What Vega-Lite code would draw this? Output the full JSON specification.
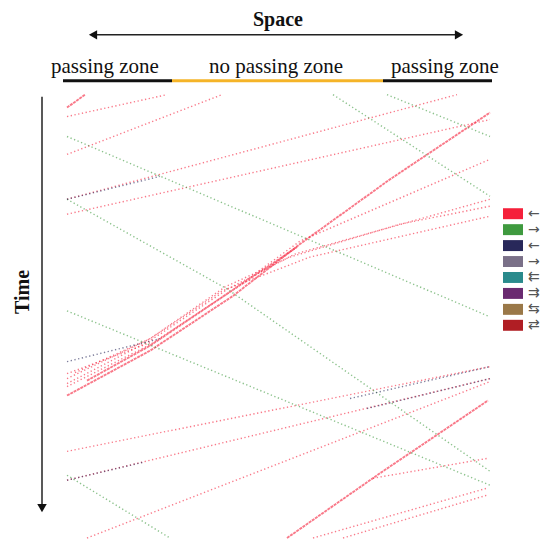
{
  "$schema": "https://vega.github.io/schema/vega-lite/v6.json",
  "width": 545,
  "height": 542,
  "padding": 0,
  "autosize": {"type": "fit", "contains": "padding"},
  "background": "white",
  "config": {"view": {"stroke": null}},
  "encoding": {
    "x": {"field": "s", "type": "quantitative", "scale": {"domain": [-67, 478], "nice": false, "zero": false}, "axis": null},
    "y": {"field": "t", "type": "quantitative", "scale": {"domain": [-90, 452], "nice": false, "zero": false, "reverse": true}, "axis": null}
  },
  "layer": [
    {
      "data": {"values": [
        {"id": "R1", "dir": "←", "sampling": "dense", "s": 0, "t": 18}, {"id": "R1", "dir": "←", "sampling": "dense", "s": 18, "t": 5},
        {"id": "R2", "dir": "←", "sampling": "sparse", "s": 0, "t": 27}, {"id": "R2", "dir": "←", "sampling": "sparse", "s": 100, "t": 5},
        {"id": "R3", "dir": "←", "sampling": "sparse", "s": 0, "t": 65}, {"id": "R3", "dir": "←", "sampling": "sparse", "s": 155, "t": 5},
        {"id": "R4", "dir": "←", "sampling": "sparse", "s": 0, "t": 110}, {"id": "R4", "dir": "←", "sampling": "sparse", "s": 390, "t": 5},
        {"id": "R5", "dir": "←", "sampling": "sparse", "s": 0, "t": 125}, {"id": "R5", "dir": "←", "sampling": "sparse", "s": 423, "t": 30},
        {"id": "R6", "dir": "←", "sampling": "dense", "s": 0, "t": 307}, {"id": "R6", "dir": "←", "sampling": "dense", "s": 83, "t": 262}, {"id": "R6", "dir": "←", "sampling": "dense", "s": 166, "t": 207}, {"id": "R6", "dir": "←", "sampling": "dense", "s": 233, "t": 155}, {"id": "R6", "dir": "←", "sampling": "dense", "s": 323, "t": 90}, {"id": "R6", "dir": "←", "sampling": "dense", "s": 423, "t": 23},
        {"id": "R7", "dir": "←", "sampling": "sparse", "s": 0, "t": 298}, {"id": "R7", "dir": "←", "sampling": "sparse", "s": 83, "t": 256}, {"id": "R7", "dir": "←", "sampling": "sparse", "s": 163, "t": 203}, {"id": "R7", "dir": "←", "sampling": "sparse", "s": 233, "t": 152}, {"id": "R7", "dir": "←", "sampling": "sparse", "s": 423, "t": 70},
        {"id": "R8", "dir": "←", "sampling": "sparse", "s": 0, "t": 295}, {"id": "R8", "dir": "←", "sampling": "sparse", "s": 83, "t": 252}, {"id": "R8", "dir": "←", "sampling": "sparse", "s": 161, "t": 200}, {"id": "R8", "dir": "←", "sampling": "sparse", "s": 228, "t": 165}, {"id": "R8", "dir": "←", "sampling": "sparse", "s": 423, "t": 110},
        {"id": "R9", "dir": "←", "sampling": "sparse", "s": 0, "t": 290}, {"id": "R9", "dir": "←", "sampling": "sparse", "s": 83, "t": 250}, {"id": "R9", "dir": "←", "sampling": "sparse", "s": 158, "t": 198}, {"id": "R9", "dir": "←", "sampling": "sparse", "s": 223, "t": 168}, {"id": "R9", "dir": "←", "sampling": "sparse", "s": 333, "t": 135}, {"id": "R9", "dir": "←", "sampling": "sparse", "s": 423, "t": 117},
        {"id": "R10", "dir": "←", "sampling": "sparse", "s": 8, "t": 284}, {"id": "R10", "dir": "←", "sampling": "sparse", "s": 83, "t": 250}, {"id": "R10", "dir": "←", "sampling": "sparse", "s": 155, "t": 202}, {"id": "R10", "dir": "←", "sampling": "sparse", "s": 243, "t": 168}, {"id": "R10", "dir": "←", "sampling": "sparse", "s": 423, "t": 127},
        {"id": "R11", "dir": "←", "sampling": "dense", "s": 20, "t": 292}, {"id": "R11", "dir": "←", "sampling": "dense", "s": 83, "t": 257}, {"id": "R11", "dir": "←", "sampling": "dense", "s": 160, "t": 205}, {"id": "R11", "dir": "←", "sampling": "dense", "s": 230, "t": 158},
        {"id": "R12", "dir": "←", "sampling": "sparse", "s": 0, "t": 285}, {"id": "R12", "dir": "←", "sampling": "sparse", "s": 83, "t": 254},
        {"id": "R13", "dir": "←", "sampling": "sparse", "s": 0, "t": 363}, {"id": "R13", "dir": "←", "sampling": "sparse", "s": 423, "t": 278},
        {"id": "R14", "dir": "←", "sampling": "sparse", "s": 0, "t": 392}, {"id": "R14", "dir": "←", "sampling": "sparse", "s": 423, "t": 290},
        {"id": "R15", "dir": "←", "sampling": "sparse", "s": 20, "t": 450}, {"id": "R15", "dir": "←", "sampling": "sparse", "s": 423, "t": 293},
        {"id": "R16", "dir": "←", "sampling": "dense", "s": 220, "t": 450}, {"id": "R16", "dir": "←", "sampling": "dense", "s": 313, "t": 385}, {"id": "R16", "dir": "←", "sampling": "dense", "s": 421, "t": 312},
        {"id": "R17", "dir": "←", "sampling": "sparse", "s": 306, "t": 390}, {"id": "R17", "dir": "←", "sampling": "sparse", "s": 421, "t": 370},
        {"id": "R18", "dir": "←", "sampling": "sparse", "s": 246, "t": 450}, {"id": "R18", "dir": "←", "sampling": "sparse", "s": 420, "t": 400},
        {"id": "R19", "dir": "←", "sampling": "sparse", "s": 276, "t": 450}, {"id": "R19", "dir": "←", "sampling": "sparse", "s": 420, "t": 407},
        {"id": "G1", "dir": "→", "sampling": "sparse", "s": 0, "t": 47}, {"id": "G1", "dir": "→", "sampling": "sparse", "s": 423, "t": 228},
        {"id": "G2", "dir": "→", "sampling": "sparse", "s": 0, "t": 110}, {"id": "G2", "dir": "→", "sampling": "sparse", "s": 160, "t": 200}, {"id": "G2", "dir": "→", "sampling": "sparse", "s": 423, "t": 383},
        {"id": "G3", "dir": "→", "sampling": "sparse", "s": 266, "t": 5}, {"id": "G3", "dir": "→", "sampling": "sparse", "s": 423, "t": 107},
        {"id": "G4", "dir": "→", "sampling": "sparse", "s": 320, "t": 5}, {"id": "G4", "dir": "→", "sampling": "sparse", "s": 423, "t": 47},
        {"id": "G5", "dir": "→", "sampling": "sparse", "s": 0, "t": 222}, {"id": "G5", "dir": "→", "sampling": "sparse", "s": 423, "t": 397},
        {"id": "G6", "dir": "→", "sampling": "sparse", "s": 0, "t": 387}, {"id": "G6", "dir": "→", "sampling": "sparse", "s": 103, "t": 450},
        {"id": "N1", "dir": "↞", "sampling": "sparse", "s": 0, "t": 110}, {"id": "N1", "dir": "↞", "sampling": "sparse", "s": 93, "t": 87},
        {"id": "N2", "dir": "↞", "sampling": "sparse", "s": 0, "t": 273}, {"id": "N2", "dir": "↞", "sampling": "sparse", "s": 93, "t": 250},
        {"id": "N3", "dir": "↞", "sampling": "sparse", "s": 0, "t": 392}, {"id": "N3", "dir": "↞", "sampling": "sparse", "s": 76, "t": 374},
        {"id": "N4", "dir": "↞", "sampling": "sparse", "s": 300, "t": 320}, {"id": "N4", "dir": "↞", "sampling": "sparse", "s": 423, "t": 290},
        {"id": "N5", "dir": "↞", "sampling": "sparse", "s": 283, "t": 310}, {"id": "N5", "dir": "↞", "sampling": "sparse", "s": 423, "t": 278}
      ]},
      "mark": {"type": "line", "opacity": 0.6, "clip": false},
      "encoding": {
        "detail": {"field": "id"},
        "color": {"field": "dir", "type": "nominal", "legend": null,
          "scale": {"domain": ["←", "→", "↞", "↠", "⇇", "⇉", "⇆", "⇄"],
                    "range": ["#f5203a", "#3f9a3f", "#28285a", "#7a7088", "#2a8a8c", "#6a2a70", "#9a7848", "#b01e24"]}},
        "strokeDash": {"field": "sampling", "type": "nominal", "legend": null,
          "scale": {"domain": ["sparse", "dense"], "range": [[1.3, 2.5], [3, 0.8]]}},
        "strokeWidth": {"field": "sampling", "type": "nominal", "legend": null,
          "scale": {"domain": ["sparse", "dense"], "range": [1.4, 1.9]}}
      }
    },
    {
      "data": {"values": [
        {"dir": "←", "label": "←", "s": 436, "s2": 456, "t": 119, "t2": 130},
        {"dir": "→", "label": "→", "s": 436, "s2": 456, "t": 135, "t2": 146},
        {"dir": "↞", "label": "←", "s": 436, "s2": 456, "t": 151, "t2": 162},
        {"dir": "↠", "label": "→", "s": 436, "s2": 456, "t": 167, "t2": 178},
        {"dir": "⇇", "label": "⇇", "s": 436, "s2": 456, "t": 183, "t2": 194},
        {"dir": "⇉", "label": "⇉", "s": 436, "s2": 456, "t": 199, "t2": 210},
        {"dir": "⇆", "label": "⇆", "s": 436, "s2": 456, "t": 215, "t2": 226},
        {"dir": "⇄", "label": "⇄", "s": 436, "s2": 456, "t": 231, "t2": 242}
      ]},
      "layer": [
        {
          "mark": {"type": "rect"},
          "encoding": {
            "x2": {"field": "s2"},
            "y2": {"field": "t2"},
            "color": {"field": "dir", "type": "nominal", "legend": null}
          }
        },
        {
          "mark": {"type": "text", "align": "left", "baseline": "middle", "dx": 5, "dy": 5.5, "font": "DejaVu Sans", "fontSize": 14, "color": "#555"},
          "encoding": {
            "x": {"field": "s2", "type": "quantitative"},
            "text": {"field": "label"}
          }
        }
      ]
    },
    {
      "data": {"values": [
        {"zone": "passing", "s": -4, "s2": 105, "t": -9},
        {"zone": "no passing", "s": 105, "s2": 316, "t": -9},
        {"zone": "passing", "s": 316, "s2": 425, "t": -9}
      ]},
      "mark": {"type": "rule", "strokeWidth": 3},
      "encoding": {
        "x2": {"field": "s2"},
        "stroke": {"field": "zone", "type": "nominal", "legend": null,
          "scale": {"domain": ["passing", "no passing"], "range": ["#111111", "#f5b428"]}}
      }
    },
    {
      "data": {"values": [{"s": 24, "s2": 394, "t": -55}]},
      "mark": {"type": "rule", "strokeWidth": 1.5, "color": "#222"},
      "encoding": {"x2": {"field": "s2"}}
    },
    {
      "data": {"values": [{"s": -25, "t": 7, "t2": 418}]},
      "mark": {"type": "rule", "strokeWidth": 1.5, "color": "#222"},
      "encoding": {"y2": {"field": "t2"}}
    },
    {
      "data": {"values": [
        {"s": 26, "t": -55, "head": "triangle-left"},
        {"s": 392, "t": -55, "head": "triangle-right"},
        {"s": -25, "t": 420, "head": "triangle-down"}
      ]},
      "mark": {"type": "point", "filled": true, "color": "#111", "opacity": 1, "size": 90},
      "encoding": {
        "shape": {"field": "head", "type": "nominal", "legend": null, "scale": null}
      }
    },
    {
      "data": {"values": [
        {"label": "passing zone", "s": 38, "t": -17},
        {"label": "no passing zone", "s": 209, "t": -17},
        {"label": "passing zone", "s": 378, "t": -17}
      ]},
      "mark": {"type": "text", "align": "center", "baseline": "alphabetic", "font": "Liberation Serif", "fontSize": 21, "color": "#111"},
      "encoding": {"text": {"field": "label"}}
    },
    {
      "data": {"values": [{"label": "Space", "s": 211, "t": -64}]},
      "mark": {"type": "text", "align": "center", "baseline": "alphabetic", "font": "Liberation Serif", "fontWeight": "bold", "fontSize": 20, "color": "#111"},
      "encoding": {"text": {"field": "label"}}
    },
    {
      "data": {"values": [{"label": "Time", "s": -44, "t": 203}]},
      "mark": {"type": "text", "align": "center", "baseline": "middle", "angle": 270, "font": "Liberation Serif", "fontWeight": "bold", "fontSize": 20, "color": "#111"},
      "encoding": {"text": {"field": "label"}}
    }
  ]
}
